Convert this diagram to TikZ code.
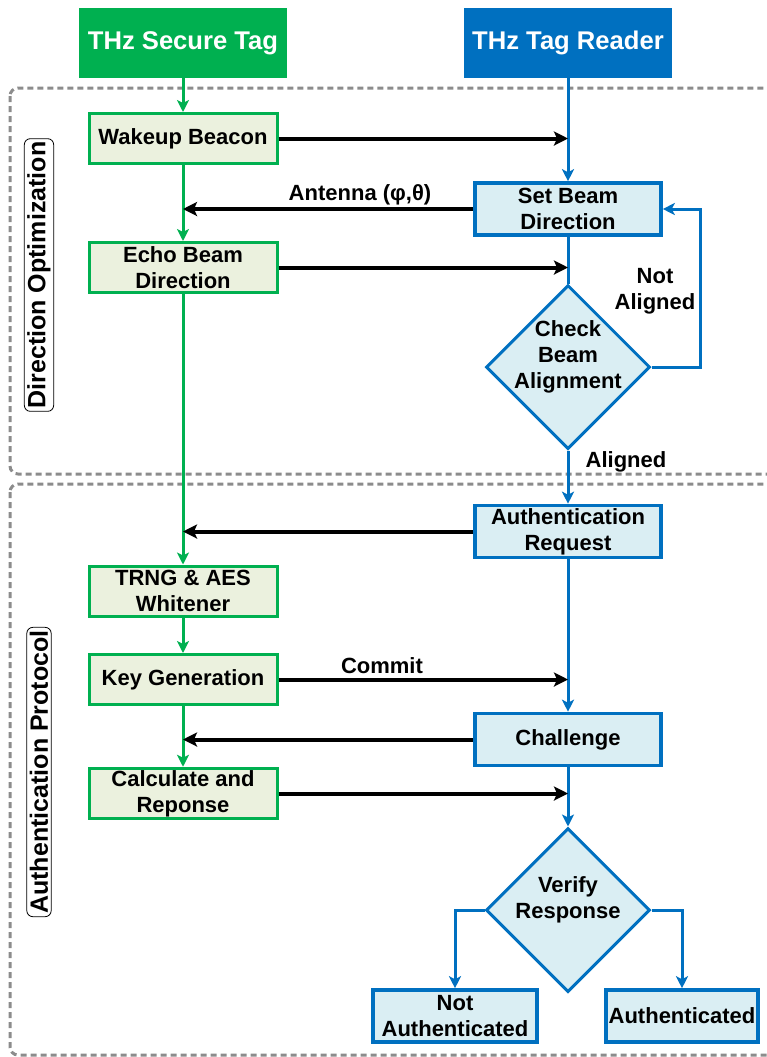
\documentclass[tikz,border=0pt]{standalone}
\usepackage{fontspec}
\setmainfont{Liberation Sans}
\usetikzlibrary{arrows.meta,shapes.geometric}
\definecolor{leaf}{RGB}{0,176,80}
\definecolor{leaffill}{RGB}{235,241,222}
\definecolor{sea}{RGB}{0,112,192}
\definecolor{seafill}{RGB}{218,238,243}
\definecolor{fog}{RGB}{140,140,140}
\tikzset{
  >={Stealth[length=6pt,width=6pt,inset=1.5pt]},
  head/.style={fill=#1,text=white,minimum width=104pt,minimum height=35pt,
    font=\fontsize{12.8}{15}\selectfont\bfseries},
  head/.default=leaf,
  tagbox/.style={draw=leaf,fill=leaffill,line width=1.5pt,minimum width=94pt,minimum height=25pt,
    align=center,inner sep=1pt,font=\fontsize{11}{13}\selectfont\bfseries},
  rdbox/.style={draw=sea,fill=seafill,line width=1.8pt,minimum width=93pt,minimum height=26pt,
    align=center,inner sep=1pt,font=\fontsize{11}{13}\selectfont\bfseries},
  decide/.style={diamond,draw=sea,fill=seafill,line width=1.5pt,minimum size=82pt,inner sep=-6pt,
    text depth=12pt,align=center,font=\fontsize{11}{13}\selectfont\bfseries},
  msg/.style={->,line width=2pt,draw=black,>={Stealth[length=7pt,width=7pt,inset=1.5pt]}},
  flow/.style={->,line width=1.5pt,draw=#1},
  flow/.default=leaf,
  zone/.style={draw=fog,line width=1.5pt,dash pattern=on 3pt off 2pt,rounded corners=4pt},
  side/.style={draw,rounded corners=3pt,rotate=90,inner sep=1.5pt,
    font=\fontsize{12.5}{15}\selectfont\bfseries},
  note/.style={align=center,font=\fontsize{11}{13}\selectfont\bfseries},
}

\begin{document}
\begin{tikzpicture}[x=0.5pt,y=-0.5pt]
  \clip (0,0) rectangle (767,1057);
  % phases
  \draw[zone] (10,88) rectangle (790,474);
  \draw[zone] (10,484) rectangle (790,1055);
  \node[side] (dirlab) at (39,275) {Direction Optimization};
  \node[side] (authlab) at (39,772) {Authentication Protocol};

  % the two parties
  \node[head=leaf] (tag) at (183,43) {THz Secure Tag};
  \node[head=sea] (rdr) at (568,43) {THz Tag Reader};

  % tag side
  \node[tagbox] (wake) at (183,138.5) {Wakeup Beacon};
  \node[tagbox] (echo) at (183,267.5) {Echo Beam\\Direction};
  \node[tagbox] (trng) at (183,591) {TRNG \& AES\\Whitener};
  \node[tagbox] (keyg) at (183,679.5) {Key Generation};
  \node[tagbox] (calc) at (183,793.5) {Calculate and\\Reponse};

  % reader side
  \node[rdbox] (setb) at (568,209) {Set Beam\\Direction};
  \node[decide] (chk) at (568,367) {Check\\Beam\\Alignment};
  \node[rdbox] (areq) at (568,531.5) {Authentication\\Request};
  \node[rdbox] (chal) at (568,739.5) {Challenge};
  \node[decide] (ver) at (568,910) {Verify\\Response};
  \node[rdbox,minimum width=82pt] (nauth) at (455,1016) {Not\\Authenticated};
  \node[rdbox,minimum width=76pt,inner sep=0pt] (auth) at (682,1016) {Authenticated};

  % flows on each side
  \foreach \a/\b in {tag/wake,wake/echo,echo/trng,trng/keyg,keyg/calc}
    \draw[flow=leaf] (\a) -- (\b);
  \foreach \a/\b in {rdr/setb,chk/areq,areq/chal,chal/ver}
    \draw[flow=sea] (\a) -- (\b);
  \draw[line width=1.5pt,draw=sea] (setb) -- (chk);
  \draw[flow=sea] (chk.east) -- ++(49,0) |- (setb.east);
  \draw[flow=sea] (ver.west) -| (nauth.north);
  \draw[flow=sea] (ver.east) -| (auth.north);

  % messages
  \draw[msg] (wake.east) -- (wake.east -| rdr);
  \draw[msg] (setb.west) -- (setb.west -| tag);
  \draw[msg] (echo.east) -- (echo.east -| rdr);
  \draw[msg] (areq.west) -- (areq.west -| tag);
  \draw[msg] (keyg.east) -- (keyg.east -| rdr);
  \draw[msg] (chal.west) -- (chal.west -| tag);
  \draw[msg] (calc.east) -- (calc.east -| rdr);

  \node[note] (ant) at (360,195) {Antenna (φ,θ)};
  \node[note,fill=white,inner sep=2pt] (cmt) at (382,666) {Commit};
  \node[note] (nal) at (655,291) {Not\\Aligned};
  \node[note] (al) at (626,462) {Aligned};
\end{tikzpicture}
\end{document}
